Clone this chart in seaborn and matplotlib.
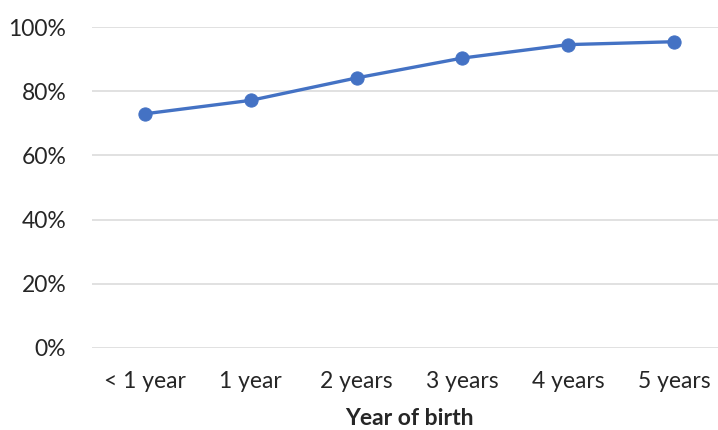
import matplotlib
matplotlib.use("Agg")
import matplotlib.pyplot as plt
import seaborn as sns
import pandas as pd
from matplotlib.ticker import FuncFormatter, MultipleLocator

# Share of children by age group (percent)
ages = ["< 1 year", "1 year", "2 years", "3 years", "4 years", "5 years"]
coverage = [73.0, 77.2, 84.2, 90.4, 94.6, 95.5]

df = pd.DataFrame({"age": ages, "coverage": coverage})

sns.set_theme(style="white")
plt.rcParams["font.family"] = ["Lato", "DejaVu Sans"]

blue = "#4472C4"
text_color = "#262626"

fig = plt.figure(figsize=(7.18, 4.30), dpi=100)
ax = fig.add_axes([92 / 718, (430 - 347.7) / 430, 626 / 718, 320.4 / 430])

ax.yaxis.set_major_locator(MultipleLocator(20))
ax.grid(axis="y", color="#D9D9D9", linewidth=1.1)
ax.set_axisbelow(True)

sns.lineplot(data=df, x="age", y="coverage", ax=ax, color=blue,
             linewidth=2.4, marker="o", markersize=9.5,
             markeredgecolor=blue, sort=False)

ax.set_ylim(0, 100)
ax.set_xlim(-0.5, 5.415)
ax.yaxis.set_major_formatter(FuncFormatter(lambda v, _: f"{v:.0f}%"))

for s in ax.spines.values():
    s.set_visible(False)

ax.tick_params(axis="both", length=0, labelsize=16.5, colors=text_color)
ax.tick_params(axis="y", pad=18.5)
ax.tick_params(axis="x", pad=17)

ax.set_ylabel("")
ax.set_xlabel("Year of birth", fontsize=16.5, fontweight="bold",
              color=text_color, labelpad=11)
ax.xaxis.label.set_position((317.5 / 626, 0))

fig.savefig("out.png", dpi=100)
